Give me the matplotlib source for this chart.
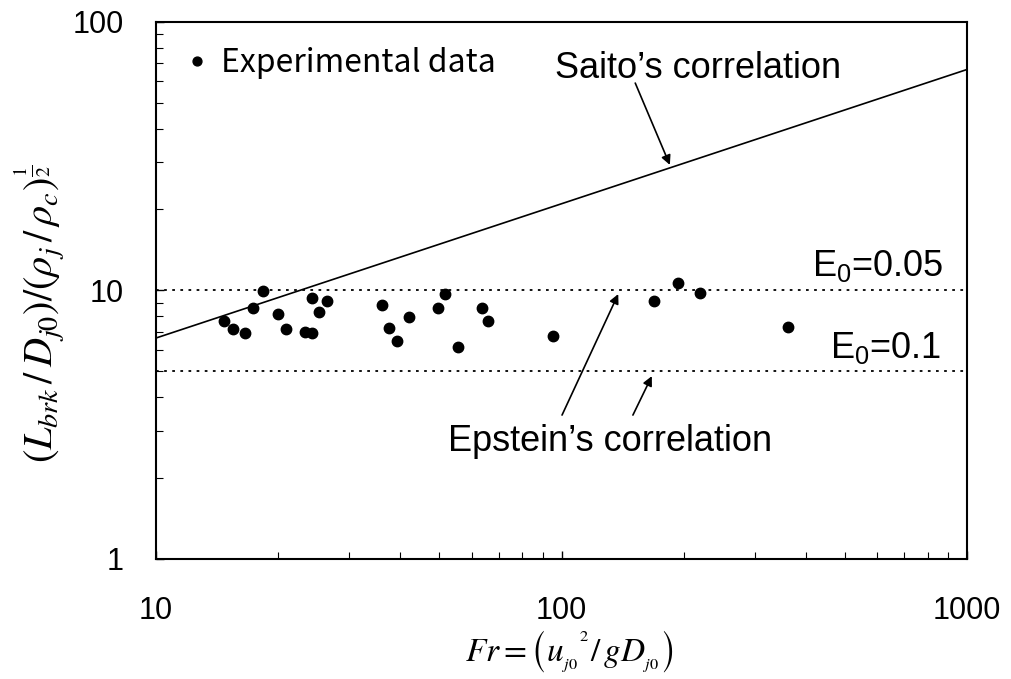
import matplotlib
matplotlib.use("Agg")
import matplotlib.pyplot as plt

plt.rcParams['font.family'] = ['Liberation Sans', 'DejaVu Sans']
plt.rcParams['mathtext.fontset'] = 'stix'

# experimental data (Fr, normalised breakup length)
fr = [14.7, 15.5, 16.6, 17.3, 18.4, 20.0, 20.9, 23.3, 24.3, 24.3, 25.3, 26.4,
      36.1, 37.6, 39.4, 42.0, 49.6, 51.6, 55.5, 63.8, 66.0, 95.5,
      169, 194, 220, 362]
lbrk = [7.70, 7.15, 6.93, 8.56, 9.93, 8.17, 7.17, 7.01, 6.93, 9.33, 8.27, 9.12,
        8.81, 7.23, 6.45, 7.96, 8.56, 9.68, 6.13, 8.56, 7.70, 6.76,
        9.09, 10.66, 9.79, 7.31]

# Saito's correlation (end points of the straight line on log-log axes)
saito_fr = [10, 1000]
saito_l = [6.64, 66.4]

# Epstein's correlation levels
eps_levels = [10, 5]

fig, ax = plt.subplots(figsize=(10.11, 6.79), dpi=100)
fig.subplots_adjust(left=0.1543, right=0.9565, top=0.968, bottom=0.177)

ax.plot(fr, lbrk, 'o', color='black', ms=7.5, label='Experimental data')
ax.plot(saito_fr, saito_l, color='black', lw=1.2)
for lv in eps_levels:
    ax.axhline(lv, color='black', lw=1.3, linestyle=(0, (1.5, 3)))

ax.set_xscale('log')
ax.set_yscale('log')
ax.set_xlim(10, 1000)
ax.set_ylim(1, 100)
ax.set_xticks([10, 100, 1000])
ax.set_xticklabels(['10', '100', '1000'])
ax.set_yticks([1, 10, 100])
ax.set_yticklabels(['1', '10', '100'])

ax.tick_params(which='both', direction='in', labelsize=22, top=False, right=False)
ax.tick_params(which='major', length=6, width=1)
ax.tick_params(which='minor', length=5, width=0.8)
ax.tick_params(axis='x', pad=27)
ax.tick_params(axis='y', pad=23)
for s in ax.spines.values():
    s.set_linewidth(1.5)

ax.set_xlabel(r'$Fr=\left(u_{_{j0}}{}^{^{2}}/\,gD_{_{j0}}\right)$', fontsize=24)
ax.xaxis.set_label_coords(0.51, -0.13)
ax.set_ylabel(r'$\left(L_{brk}\,/\,D_{j0}\right)/\left(\rho_j\,/\,\rho_c\right)^{\frac{1}{2}}$',
              fontsize=29)
ax.yaxis.set_label_coords(-0.11, 0.455)

leg = ax.legend(loc='upper left', bbox_to_anchor=(0.003, 1.006), frameon=False,
                handlelength=0.6, handletextpad=0.45, markerscale=0.85,
                prop={'family': ['Noto Sans CJK JP', 'DejaVu Sans'], 'size': 23})

arrow = dict(arrowstyle='-|>', color='black', lw=1.2, mutation_scale=14,
             shrinkA=0, shrinkB=0)
ax.annotate('', xy=(185, 29.3), xytext=(152, 59.1), arrowprops=arrow)
ax.text(217, 67.2, 'Saito\u2019s correlation', fontsize=26, ha='center', va='center')

ax.annotate('', xy=(138, 9.68), xytext=(100.3, 3.43), arrowprops=arrow)
ax.annotate('', xy=(167, 4.79), xytext=(150, 3.43), arrowprops=arrow)
ax.text(132, 2.52, 'Epstein\u2019s correlation', fontsize=26, ha='center', va='baseline')

ax.text(415, 12.3, r'E$\mathregular{_0}$=0.05', fontsize=26, ha='left', va='center')
ax.text(459, 6.1, r'E$\mathregular{_0}$=0.1', fontsize=26, ha='left', va='center')

fig.savefig('out.png', dpi=100)
